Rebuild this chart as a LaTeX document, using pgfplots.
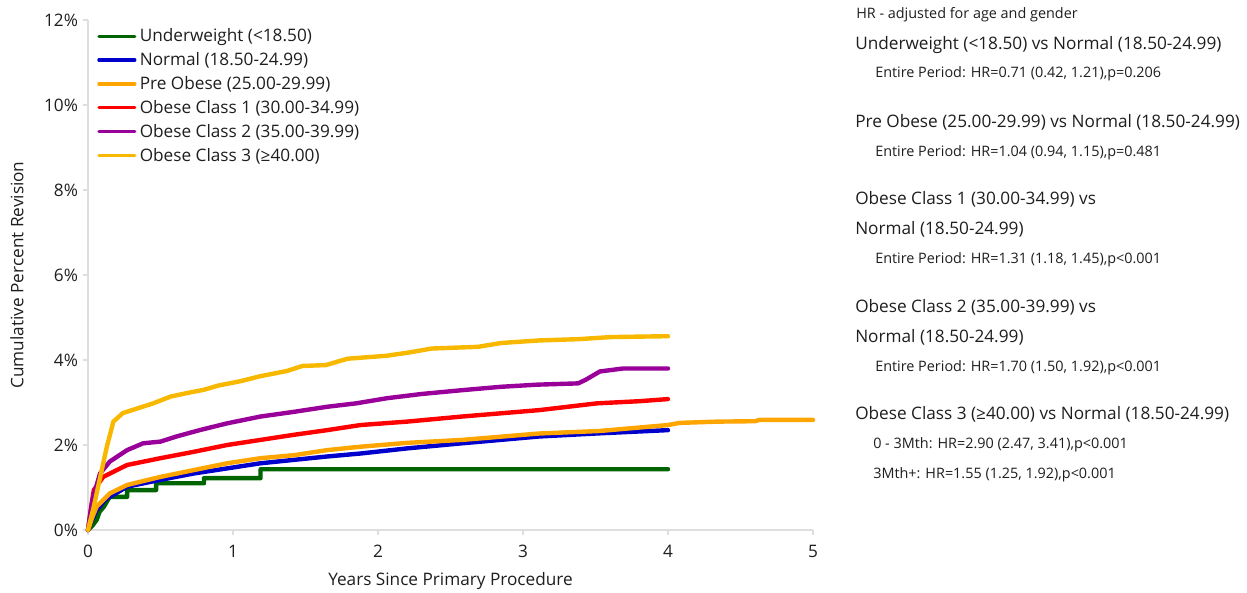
\documentclass[border=0pt]{standalone}
\usepackage{fontspec}
\setmainfont{Open Sans}
\usepackage{pgfplots}
\pgfplotsset{compat=1.18}

\definecolor{cUnder}{RGB}{0,100,0}
\definecolor{cNormal}{RGB}{0,0,205}
\definecolor{cPre}{RGB}{255,165,0}
\definecolor{cOb1}{RGB}{255,0,0}
\definecolor{cOb2}{RGB}{153,0,153}
\definecolor{cOb3}{RGB}{248,184,0}
\definecolor{axgray}{RGB}{222,222,222}
\definecolor{txt}{RGB}{30,30,30}

\newcommand\bigf{\fontsize{12.9}{15}\selectfont}
\newcommand\smallf{\fontsize{10.8}{13}\selectfont}

\begin{document}
\begin{tikzpicture}
\path[use as bounding box] (-66pt,-47.25pt) rectangle (869.25pt,397.5pt);
\begin{axis}[at={(0,0)}, anchor=south west, scale only axis,
  width=543.75pt, height=382.5pt,
  xmin=0, xmax=5, ymin=0, ymax=12, clip=false,
  axis x line=bottom, axis y line=left,
  axis line style={-, axgray, line width=2.2pt},
  xtick={0,1,2,3,4,5}, ytick={0,2,4,6,8,10,12},
  tick style={axgray, line width=1pt}, major tick length=4pt, tick align=outside,
  yticklabel={\pgfmathprintnumber{\tick}\%},
  /pgf/number format/assume math mode=true,
  ticklabel style={font=\bigf, text=txt},
  xticklabel style={yshift=-4pt},
  xlabel={Years Since Primary Procedure},
  ylabel={Cumulative Percent Revision},
  label style={font=\bigf, text=txt},
  xlabel style={at={(rel axis cs:0.5,-0.1)}, anchor=center},
  ylabel style={at={(rel axis cs:-0.0979,0.5)}, anchor=center, rotate=0},
  legend style={at={(rel axis cs:0.0124,0.99)}, anchor=north west, draw=none, fill=none,
    font=\bigf, text=txt, row sep=1.6pt, inner sep=0pt,
    nodes={inner sep=2.5pt}},
  legend cell align=left,
  legend image code/.code={\draw[#1, line width=2.4pt] (0pt,0pt) -- (27pt,0pt);},
  every axis plot/.append style={line width=3.3pt, line join=round, line cap=round},
]
\addplot[cUnder] coordinates {(0,0) (0.03,0.1) (0.06,0.24) (0.08,0.43) (0.11,0.55) (0.13,0.67) (0.15,0.78) (0.27,0.78) (0.27,0.94) (0.47,0.94) (0.47,1.1) (0.80,1.1) (0.80,1.22) (1.19,1.22) (1.19,1.43) (4.0,1.43)};
\addlegendentry{Underweight (<18.50)}
\addplot[cNormal] coordinates {(0,0) (0.03,0.25) (0.06,0.47) (0.12,0.72) (0.27,1.02) (0.5,1.18) (0.73,1.33) (0.96,1.45) (1.19,1.57) (1.42,1.65) (1.65,1.73) (1.88,1.8) (2.2,1.92) (2.58,2.04) (3.11,2.2) (3.5,2.27) (4.0,2.35)};
\addlegendentry{Normal (18.50-24.99)}
\addplot[cPre] coordinates {(0,0) (0.03,0.3) (0.06,0.55) (0.15,0.86) (0.27,1.06) (0.5,1.25) (0.73,1.41) (0.96,1.57) (1.19,1.69) (1.42,1.76) (1.65,1.88) (1.88,1.96) (2.2,2.05) (2.58,2.12) (3.11,2.27) (3.53,2.33) (4.0,2.47) (4.08,2.52) (4.34,2.55) (4.6,2.56) (4.63,2.59) (5.0,2.59)};
\addlegendentry{Pre Obese (25.00-29.99)}
\addplot[cOb1] coordinates {(0,0) (0.02,0.5) (0.04,0.94) (0.105,1.25) (0.27,1.53) (0.5,1.69) (0.73,1.84) (0.96,2.0) (1.19,2.12) (1.42,2.24) (1.65,2.35) (1.88,2.47) (2.2,2.55) (2.58,2.67) (3.11,2.82) (3.51,2.98) (3.8,3.03) (4.0,3.08)};
\addlegendentry{Obese Class 1 (30.00-34.99)}
\addplot[cOb2] coordinates {(0,0) (0.03,0.7) (0.083,1.33) (0.15,1.61) (0.27,1.88) (0.38,2.04) (0.5,2.08) (0.61,2.2) (0.77,2.35) (0.96,2.51) (1.19,2.67) (1.42,2.78) (1.65,2.9) (1.85,2.98) (2.06,3.1) (2.3,3.2) (2.58,3.29) (2.85,3.37) (3.1,3.42) (3.38,3.45) (3.43,3.53) (3.53,3.73) (3.69,3.8) (4.0,3.8)};
\addlegendentry{Obese Class 2 (35.00-39.99)}
\addplot[cOb3] coordinates {(0,0) (0.04,0.55) (0.08,1.18) (0.13,1.96) (0.175,2.55) (0.24,2.75) (0.34,2.86) (0.45,2.98) (0.57,3.14) (0.68,3.22) (0.8,3.3) (0.9,3.4) (1.05,3.5) (1.19,3.62) (1.37,3.74) (1.48,3.86) (1.64,3.88) (1.79,4.03) (2.06,4.1) (2.22,4.18) (2.37,4.27) (2.69,4.31) (2.85,4.4) (3.11,4.46) (3.38,4.49) (3.61,4.54) (4.0,4.56)};
\addlegendentry{Obese Class 3 (≥40.00)}
\end{axis}
\begin{scope}[shift={(-66pt,397.5pt)}, x=0.75pt, y=-0.75pt, every node/.style={anchor=base west, inner sep=0pt, text=txt}]
\node[font=\smallf] at (856,19) {HR - adjusted for age and gender};
\node[font=\bigf] at (855,50) {Underweight (<18.50) vs Normal (18.50-24.99)};
\node[font=\smallf] at (875,78) {Entire Period: HR=0.71 (0.42, 1.21),p=0.206};
\node[font=\bigf] at (855,128) {Pre Obese (25.00-29.99) vs Normal (18.50-24.99)};
\node[font=\smallf] at (875,157) {Entire Period: HR=1.04 (0.94, 1.15),p=0.481};
\node[font=\bigf] at (855,205) {Obese Class 1 (30.00-34.99) vs};
\node[font=\bigf] at (855,235) {Normal (18.50-24.99)};
\node[font=\smallf] at (875,264) {Entire Period: HR=1.31 (1.18, 1.45),p<0.001};
\node[font=\bigf] at (855,313) {Obese Class 2 (35.00-39.99) vs};
\node[font=\bigf] at (855,343) {Normal (18.50-24.99)};
\node[font=\smallf] at (875,372) {Entire Period: HR=1.70 (1.50, 1.92),p<0.001};
\node[font=\bigf] at (855,420) {Obese Class 3 (≥40.00) vs Normal (18.50-24.99)};
\node[font=\smallf] at (873,449) {0 - 3Mth: HR=2.90 (2.47, 3.41),p<0.001};
\node[font=\smallf] at (873,479) {3Mth+: HR=1.55 (1.25, 1.92),p<0.001};
\end{scope}
\end{tikzpicture}
\end{document}
